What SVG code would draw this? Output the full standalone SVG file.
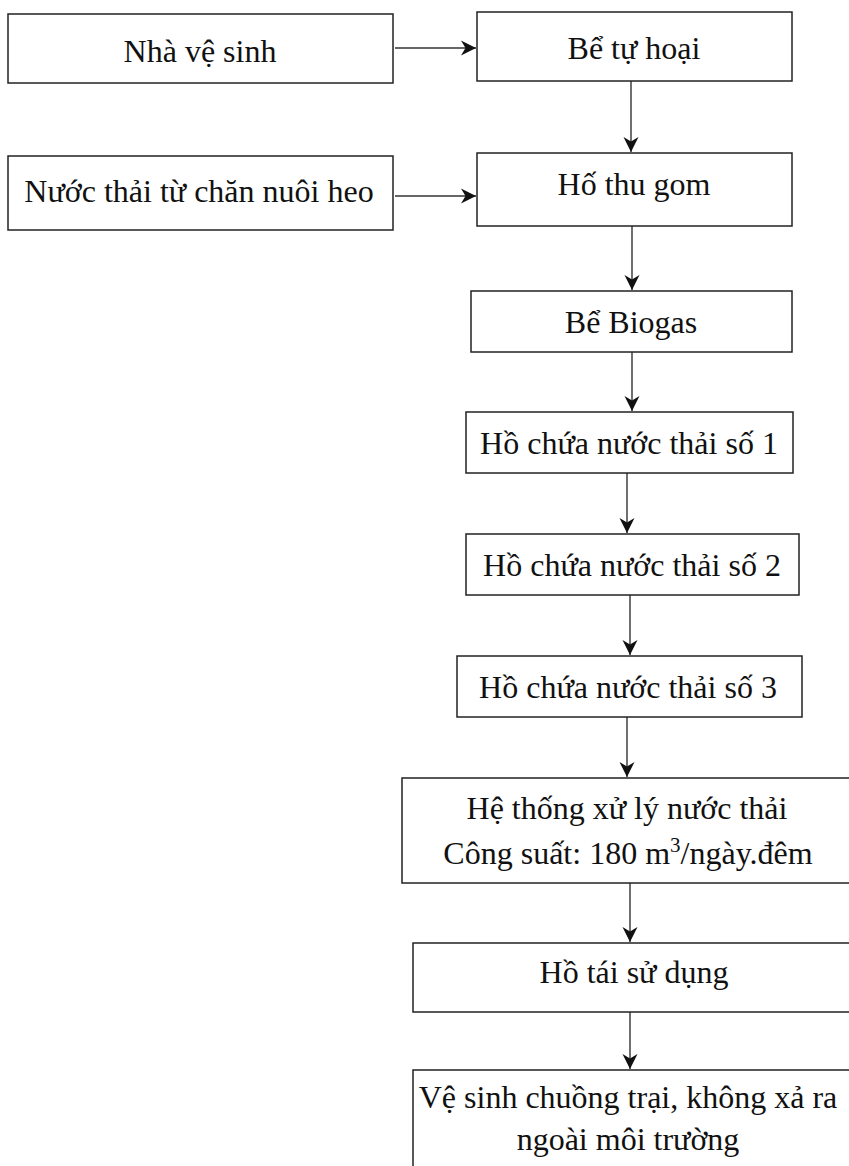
<svg xmlns="http://www.w3.org/2000/svg" width="849" height="1166" viewBox="0 0 849 1166">
<style>
.box{fill:#fff;stroke:#222;stroke-width:1.5}
.t{font-family:"Liberation Serif","Times New Roman",serif;font-size:32px;fill:#111;text-anchor:middle}
.c{stroke:#333;stroke-width:1.4;fill:none;marker-end:url(#ah)}
</style>
<defs>
<marker id="ah" markerUnits="userSpaceOnUse" markerWidth="17" markerHeight="17" viewBox="-16 -8.5 17 17" refX="0" refY="0" orient="auto">
<path d="M0,0 L-15,-7.5 L-10.5,0 L-15,7.5 Z" fill="#111"/>
</marker>
</defs>
<rect width="849" height="1166" fill="#fff"/>
<g id="connectors">
<path class="c" d="M395,48 H476"/>
<path class="c" d="M395,196 H476"/>
<path class="c" d="M631,81 V152"/>
<path class="c" d="M632,226 V290"/>
<path class="c" d="M632,352 V411"/>
<path class="c" d="M627,473 V533"/>
<path class="c" d="M630,595 V655"/>
<path class="c" d="M627,717 V777"/>
<path class="c" d="M630,883 V942"/>
<path class="c" d="M630,1012 V1069"/>
</g>
<g id="n1"><rect class="box" x="8" y="14" width="385" height="69"/><text class="t" x="200" y="62">Nhà vệ sinh</text></g>
<g id="n2"><rect class="box" x="477" y="12" width="315" height="69"/><text class="t" x="634" y="59">Bể tự hoại</text></g>
<g id="n3"><rect class="box" x="8" y="156" width="385" height="74"/><text class="t" x="199" y="202">Nước thải từ chăn nuôi heo</text></g>
<g id="n4"><rect class="box" x="477" y="153" width="315" height="73"/><text class="t" x="634" y="195">Hố thu gom</text></g>
<g id="n5"><rect class="box" x="471" y="291" width="321" height="61"/><text class="t" x="631" y="333">Bể Biogas</text></g>
<g id="n6"><rect class="box" x="466" y="412" width="327" height="61"/><text class="t" x="629" y="454">Hồ chứa nước thải số 1</text></g>
<g id="n7"><rect class="box" x="466" y="534" width="333" height="61"/><text class="t" x="632" y="576">Hồ chứa nước thải số 2</text></g>
<g id="n8"><rect class="box" x="457" y="656" width="345" height="61"/><text class="t" x="628" y="698">Hồ chứa nước thải số 3</text></g>
<g id="n9"><rect class="box" x="402" y="778" width="450" height="105"/><text class="t" x="627" y="819">Hệ thống xử lý nước thải</text><text class="t" x="628" y="864">Công suất: 180 m<tspan font-size="21" dy="-12">3</tspan><tspan dy="12">/ngày.đêm</tspan></text></g>
<g id="n10"><rect class="box" x="413" y="943" width="442" height="69"/><text class="t" x="634" y="983">Hồ tái sử dụng</text></g>
<g id="n11"><rect class="box" x="413" y="1070" width="442" height="110"/><text class="t" x="628" y="1108">Vệ sinh chuồng trại, không xả ra</text><text class="t" x="628" y="1150">ngoài môi trường</text></g>
</svg>
